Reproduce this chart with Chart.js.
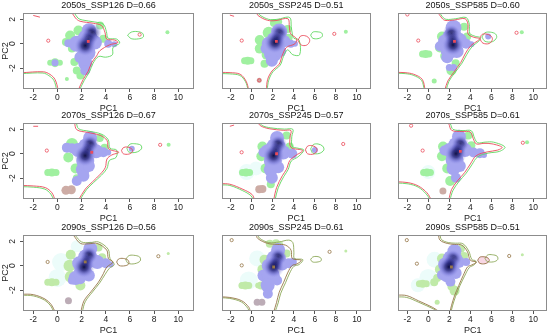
<!DOCTYPE html>
<html>
<head>
<meta charset="utf-8">
<script src="https://cdn.jsdelivr.net/npm/chart.js@4.4.1/dist/chart.umd.min.js"></script>
<style>
html, body { margin: 0; padding: 0; background: #fff; }
#wrap { position: relative; width: 550px; height: 335px; overflow: hidden; }
#wrap canvas { position: absolute; }
</style>
</head>
<body>
<div id="wrap"></div>
<script>
// panel titles, left to right, top to bottom
var titles = ['2050s_SSP126 D=0.66', '2050s_SSP245 D=0.51', '2050s_SSP585 D=0.60',
              '2070s_SSP126 D=0.67', '2070s_SSP245 D=0.57', '2070s_SSP585 D=0.61',
              '2090s_SSP126 D=0.56', '2090s_SSP245 D=0.61', '2090s_SSP585 D=0.51'];
var xTicks = [-2, 0, 2, 4, 6, 8, 10];
var yTicks = [-2, 0, 2];

// density patches [PC1, PC2, radius]
var greenFill = [
  [[1.05,0.67,5],[1.74,1.09,5],[0.7,0.15,4],[1.2,-0.4,4],[1.4,-1.5,4],[1.6,-2.2,4],[1.9,-2.6,4],[3.53,1.5,4],[3.8,0.4,4],[-0.6,-1.55,3],[-0.2,-1.55,4.5],[0.2,-1.55,3],[0.78,-2.9,2],[9.1,0.94,2]],
  [[0.75,0.3,5],[0.75,-0.4,5],[1.6,0.9,6],[1.4,-0.9,5],[1.2,-1.65,4],[2.1,1.7,4],[2.6,1.8,3],[3.4,1.2,4],[3.5,0.5,4],[-0.7,-1.4,3.5],[-0.4,-1.4,4],[-0.1,-1.4,3.5],[8.95,0.98,2]],
  [[1.1,-0.3,5],[1.3,0.6,5],[1.6,-1.0,5],[2.2,-2.2,5],[2.6,-1.6,4],[3.4,1.4,4],[3.7,0.6,4],[-0.55,-0.84,3.5],[-0.25,-0.84,4],[0.05,-0.84,3.5],[0.56,-3.06,2.5],[8.9,0.95,2]],
  [[1.2,0.8,6],[0.9,-0.3,5],[1.5,-1.2,5],[1.6,-2.0,4],[3.5,1.3,4],[3.9,0.5,4],[-0.8,-1.54,3.5],[-0.46,-1.54,4],[-0.12,-1.54,3.5],[9.2,0.73,2]],
  [[1.0,0.6,5],[0.9,-0.2,5],[1.3,-1.2,5],[1.8,-2.5,4],[3.3,1.5,4],[3.6,0.6,4],[-0.9,-1.54,3.5],[-0.56,-1.54,4],[-0.22,-1.54,3.5]],
  [[1.4,0.6,5],[1.3,-0.2,5],[1.8,-1.2,5],[2.08,-2.23,5],[2.5,-2.0,4],[3.8,1.5,4],[4.1,0.7,4],[-0.45,-1.54,3.5],[-0.13,-1.54,4],[0.2,-1.54,3.5],[9.4,0.95,2]],
  [[1.1,0.9,5],[1.0,0.0,6],[1.1,-0.9,6],[1.9,-1.62,5],[3.4,1.5,4],[3.7,0.7,4],[-0.8,-1.35,3.5],[-0.46,-1.35,4],[-0.12,-1.35,3.5],[9.17,1.0,1.5]],
  [[1.2,0.5,5],[1.0,-0.3,5],[1.7,1.8,4],[2.3,1.85,4],[2.7,1.75,3],[3.3,1.0,4],[0.6,-1.62,3],[0.88,-1.62,4],[-0.95,-1.62,3.5],[-0.63,-1.62,4],[-0.3,-1.62,3.5],[8.95,1.2,1.5]],
  [[1.3,0.6,5],[1.1,-0.3,5],[0.56,-1.35,4],[0.84,-1.0,4],[2.2,-1.7,4],[2.5,-2.04,5],[3.1,1.4,4],[3.4,0.8,4],[-0.85,-1.48,3.5],[-0.54,-1.48,4],[-0.2,-1.48,3.5],[0.84,-3.0,2.5],[8.95,0.9,1.5]]
];
var hazeFill = [[], [], [], [], [[-0.5,-1.5,8],[0.4,-1.2,7]], [[0.0,-1.5,7]],
  [[0.3,0.3,9],[0.0,-1.0,9],[1.6,1.6,6]], [[-0.3,-1.2,9],[0.5,0.6,8]], [[0.0,-1.0,9],[0.6,0.5,8],[-1.0,-1.6,7]]];
var mixFill = [[], [[0.7,-3.0,2.5]], [], [[0.7,-3.0,4.5],[1.15,-2.95,4.5]], [[0.7,-2.92,4],[1.0,-2.9,4]],
  [[1.39,-3.06,3.5]], [[0.91,-2.87,3.5]], [[0.5,-3.0,3.5],[0.95,-3.0,3.5]], []];
var pinkFill = [[], [], [], [], [], [], [], [], [[5.1,0.45,4],[5.4,0.45,4]]];
var blueFill = [
  [[2.6,1.1,7],[2.5,0.4,10],[1.6,0.0,8],[0.9,0.05,4],[3.1,0.1,7],[2.4,-0.7,9],[1.9,-1.1,6],[2.3,-1.6,7],[2.3,-2.2,5],[4.2,0.0,4],[4.7,-0.05,3],[-0.2,-1.55,3.5]],
  [[2.6,1.0,8],[2.3,0.2,10],[1.6,0.0,7],[1.3,-0.4,5],[2.0,-0.8,9],[1.9,-1.4,6],[3.1,0.2,6],[3.7,0.0,4],[2.7,-0.6,6],[4.1,0.0,3]],
  [[2.4,1.3,8],[2.3,0.5,10],[1.6,0.2,7],[1.1,-0.2,5],[2.0,-0.5,9],[3.0,0.3,7],[3.6,0.0,5],[4.1,-0.05,3],[2.7,-0.6,7],[1.8,-1.1,6],[2.0,-1.95,3.5],[2.4,-1.95,3.5],[5.7,0.6,3]],
  [[2.7,1.3,7],[2.5,0.5,10],[1.7,0.3,7],[0.78,0.5,5],[1.2,0.45,5],[3.2,0.2,7],[3.8,0.12,5],[4.2,0.1,3],[2.3,-0.6,9],[2.1,-1.3,7],[2.15,-1.81,6],[1.6,-2.23,5],[2.6,-1.0,6],[6.15,0.4,3]],
  [[2.4,1.3,7],[2.3,0.5,10],[1.5,0.2,7],[1.1,0.12,5],[3.0,0.1,7],[3.85,0.0,5],[2.0,-0.6,9],[1.8,-1.3,7],[1.9,-1.97,6],[2.5,-1.1,6],[6.0,0.3,3]],
  [[2.92,1.4,7],[2.8,0.6,10],[2.0,0.3,7],[1.53,0.26,5],[3.5,0.3,7],[4.3,0.1,5],[4.9,0.05,5],[5.3,-0.1,3],[2.5,-0.5,9],[2.4,-1.2,7],[2.63,-1.97,5],[3.0,-1.0,6]],
  [[2.72,1.4,7],[2.5,0.6,10],[1.8,0.2,7],[3.3,0.3,7],[4.0,0.2,5],[4.4,0.1,3],[2.1,-0.5,9],[1.5,-1.0,7],[1.2,-1.2,4],[2.6,-0.8,6],[1.9,-1.1,5]],
  [[2.5,1.3,7],[2.3,0.5,10],[1.6,0.0,7],[1.1,-0.8,6],[1.8,-0.8,9],[1.5,-1.6,7],[1.52,-2.3,5],[2.9,0.1,6],[3.5,0.2,5],[3.9,0.31,4],[2.4,-1.2,5]],
  [[2.49,1.2,7],[2.3,0.5,10],[1.6,0.1,7],[1.3,-0.75,5],[1.8,-0.7,8],[2.9,0.3,6],[3.6,0.31,4],[2.6,-0.6,6],[2.1,-1.3,5]]
];
// dark core of the density: upper spot, middle of the ridge, lower spot
var coreFill = [
  [[2.85,0.9,10],[2.57,0.39,9],[2.3,-0.15,11]], [[2.6,0.9,9],[2.4,0.5,8],[2.2,0.1,11]], [[2.2,0.85,9],[2.3,0.4,8],[2.35,-0.1,11]],
  [[2.7,0.81,9],[2.5,0.35,8],[2.29,-0.16,11]], [[2.5,0.81,9],[2.3,0.35,8],[2.07,-0.16,11]], [[3.05,0.81,9],[2.85,0.4,8],[2.63,0.0,11]],
  [[2.6,0.86,9],[2.4,0.4,8],[2.2,-0.11,11]], [[2.49,0.72,9],[2.3,0.3,8],[2.07,-0.1,11]], [[2.35,0.59,9],[2.15,0.25,8],[1.94,-0.1,11]]
];
var centroid = [[2.55,0.19],[2.33,0.2],[2.49,0.2],[2.84,0.12],[2.35,0.0],[3.05,0.2],[2.3,0.31],[2.07,-0.1],[2.2,-0.1]];

// contour lines [PC1, PC2]
var redLines = [
  [[[1.17,2.6],[1.5,2.1],[1.86,1.85],[2.96,1.68],[3.65,1.49],[3.93,0.94],[4.07,0.39],[4.75,0.3],[5.0,0.1],[4.3,-0.1],[3.5,-0.58],[3.24,-1.0],[2.83,-1.55],[2.55,-2.24],[2.13,-2.93],[1.72,-3.8]],
   [[-3,-2.38],[-1.17,-2.3],[-0.62,-2.51],[-0.2,-2.93],[0.07,-3.8]],
   [[-2.0,2.32],[-1.45,2.18]]],
  [[[0.4,2.6],[0.6,2.3],[1.5,1.92],[2.3,1.9],[3.43,2.05],[3.57,1.36],[3.7,0.81],[4.26,0.4],[4.1,0.0],[3.29,-0.3],[2.88,-0.98],[2.6,-1.67],[1.92,-2.23],[1.5,-2.92],[1.37,-3.8]],
   [[4.4,0.25],[4.6,0.6],[5.0,0.67],[5.4,0.5],[5.5,0.2],[5.2,-0.12],[4.7,-0.1],[4.4,0.25]],
   [[-3,-2.35],[-2.08,-2.37],[-1.12,-2.5],[-0.56,-3.06],[-0.29,-3.8]],
   [[-2.1,2.35],[-1.7,2.25]]],
  [[[0.89,2.6],[1.2,2.2],[1.57,1.92],[2.5,1.95],[3.5,2.05],[3.78,1.57],[3.78,0.81],[4.33,0.53],[4.88,0.4],[4.05,-0.16],[3.5,-0.84],[3.09,-1.54],[2.4,-2.37],[1.85,-3.06],[1.57,-3.8]],
   [[4.9,0.4],[5.1,0.75],[5.5,0.8],[5.95,0.65],[6.1,0.35],[5.8,0.02],[5.2,0.05],[4.9,0.4]],
   [[-3,-2.35],[-2.22,-2.37],[-1.4,-2.5],[-0.58,-2.92],[-0.3,-3.8]]],
  [[[1.4,2.6],[1.6,1.97],[2.5,1.75],[3.55,1.5],[4.1,1.09],[4.25,0.4],[5.08,0.12],[4.5,-0.1],[4.1,-0.43],[3.96,-1.13],[3.55,-1.67],[2.9,-2.3],[2.3,-2.9],[1.74,-3.8]],
   [[5.3,0.25],[5.45,0.5],[5.8,0.55],[6.15,0.4],[6.2,0.15],[5.9,-0.03],[5.45,0.0],[5.3,0.25]],
   [[-3,-2.6],[-2.0,-2.64],[-1.0,-2.78],[-0.46,-3.2],[-0.19,-3.8]],
   [[-2.0,2.25],[-1.6,2.25]]],
  [[[0.55,2.6],[0.8,2.3],[1.65,2.05],[3.03,1.92],[3.72,1.9],[3.63,1.36],[3.72,0.53],[4.83,0.26],[4.14,-0.16],[3.6,-0.57],[3.3,-1.27],[2.9,-1.8],[2.35,-2.78],[2.07,-3.8]],
   [[5.1,0.32],[5.3,0.62],[5.7,0.67],[6.1,0.52],[6.2,0.25],[5.9,-0.02],[5.3,0.0],[5.1,0.32]],
   [[-3,-2.45],[-2.1,-2.5],[-0.85,-2.92],[0.0,-3.33],[0.27,-3.8]],
   [[-2.1,2.25],[-1.7,2.35]]],
  [[[1.8,2.6],[1.94,2.47],[2.22,1.92],[3.2,1.82],[4.0,1.78],[4.28,1.23],[4.56,0.81],[5.3,0.85],[6.07,0.81],[7.03,0.53],[6.6,0.3],[5.6,0.15],[4.56,-0.16],[4.0,-0.84],[3.46,-1.54],[2.77,-2.23],[2.22,-2.92],[1.94,-3.8]],
   [[-3,-2.3],[-1.92,-2.37],[-0.96,-2.64],[-0.13,-3.2],[0.3,-3.8]]],
  [[[1.2,2.6],[1.32,2.5],[1.9,1.83],[2.6,1.8],[3.28,1.83],[4.08,1.28],[4.22,0.59],[4.6,0.3],[4.08,-0.11],[3.8,-0.65],[3.39,-1.35],[2.8,-2.1],[2.2,-2.87],[1.93,-3.8]],
   [[4.9,0.3],[5.05,0.55],[5.45,0.6],[5.85,0.45],[5.9,0.15],[5.6,0.0],[5.1,0.02],[4.9,0.3]],
   [[-3,-2.33],[-2.0,-2.37],[-1.03,-2.73],[-0.5,-3.2],[-0.19,-3.8]]],
  [[[0.4,2.6],[0.55,2.24],[1.5,1.83],[2.4,1.75],[3.2,1.69],[3.73,1.28],[3.85,0.59],[4.7,0.45],[4.3,0.15],[3.85,0.03],[3.44,-0.52],[3.03,-1.35],[2.6,-2.18],[2.35,-3.0],[2.07,-3.8]],
   [[-3,-2.55],[-2.1,-2.6],[-0.97,-2.87],[-0.28,-3.42],[-0.15,-3.8]]],
  [[[0.95,2.6],[1.11,2.1],[1.8,1.83],[2.5,1.75],[3.18,1.69],[3.73,1.14],[4.0,0.45],[4.6,0.3],[4.1,0.05],[3.73,-0.1],[3.32,-0.8],[2.9,-1.62],[2.5,-2.45],[2.2,-3.28],[2.06,-3.8]],
   [[4.7,0.45],[4.9,0.7],[5.3,0.73],[5.7,0.62],[5.8,0.4],[5.4,0.17],[4.9,0.2],[4.7,0.45]],
   [[-3,-2.4],[-2.05,-2.45],[-0.95,-2.87],[0.42,-3.42],[1.11,-3.8]]]
];
var greenLines = [
  [[[1.35,2.6],[1.7,2.1],[2.05,1.95],[3.1,1.78],[3.8,1.6],[4.05,1.0],[4.2,0.45],[4.9,0.38],[5.15,0.05],[4.6,-0.3],[4.55,-0.9],[4.0,-1.1],[3.4,-1.05],[2.95,-1.6],[2.65,-2.3],[2.22,-3.0],[1.82,-3.8]],
   [[-3,-2.45],[-1.2,-2.4],[-0.7,-2.62],[-0.3,-3.0],[-0.05,-3.8]],
   [[5.8,0.7],[6.1,0.95],[6.6,1.0],[7.05,0.85],[7.1,0.55],[6.7,0.4],[6.1,0.42],[5.8,0.7]]],
  [[[0.55,2.6],[0.75,2.35],[1.6,2.0],[2.4,2.0],[3.6,2.15],[3.75,1.4],[3.85,0.8],[4.0,0.45],[4.5,0.3],[4.55,-0.9],[3.9,-0.9],[3.4,-0.5],[3.0,-1.05],[2.7,-1.75],[2.0,-2.3],[1.6,-3.0],[1.45,-3.8]],
   [[5.6,0.7],[5.8,0.95],[6.2,0.98],[6.65,0.88],[6.7,0.6],[6.3,0.42],[5.8,0.45],[5.6,0.7]],
   [[-3,-2.45],[-2.1,-2.47],[-1.15,-2.6],[-0.62,-3.1],[-0.35,-3.8]]],
  [[[1.05,2.6],[1.35,2.2],[1.7,2.0],[2.6,2.05],[3.6,2.15],[3.9,1.6],[3.95,0.85],[4.5,0.6],[4.95,0.5],[4.8,0.2],[4.2,-0.2],[3.65,-0.9],[3.2,-1.6],[2.5,-2.4],[1.95,-3.1],[1.7,-3.8]],
   [[5.1,0.55],[5.4,0.9],[5.9,0.95],[6.4,0.8],[6.5,0.5],[6.1,0.17],[5.4,0.2],[5.1,0.55]],
   [[-3,-2.42],[-2.2,-2.45],[-1.45,-2.58],[-0.65,-3.0],[-0.38,-3.8]]],
  [[[1.55,2.6],[1.75,2.05],[2.6,1.85],[3.65,1.6],[4.2,1.15],[4.35,0.45],[4.9,0.3],[4.85,-0.3],[4.3,-0.55],[4.1,-1.2],[3.65,-1.75],[3.0,-2.35],[2.4,-2.95],[1.85,-3.8]],
   [[5.75,0.45],[6.0,0.78],[6.4,0.82],[6.9,0.7],[6.95,0.4],[6.5,0.12],[5.9,0.15],[5.75,0.45]],
   [[-3,-2.7],[-2.0,-2.74],[-1.05,-2.9],[-0.55,-3.3],[-0.3,-3.8]]],
  [[[0.7,2.6],[0.95,2.32],[1.8,2.12],[3.1,2.02],[3.9,2.0],[3.8,1.4],[3.85,0.6],[4.4,0.45],[4.95,0.3],[4.4,-0.25],[3.75,-0.6],[3.45,-1.3],[3.05,-1.85],[2.5,-2.8],[2.2,-3.8]],
   [[5.6,0.4],[5.85,0.75],[6.3,0.8],[6.75,0.62],[6.85,0.3],[6.4,0.02],[5.8,0.05],[5.6,0.4]],
   [[-3,-2.55],[-2.1,-2.6],[-0.9,-3.02],[-0.1,-3.43],[0.15,-3.8]]],
  [[[1.95,2.6],[2.1,2.45],[2.35,2.0],[3.3,1.9],[4.1,1.88],[4.4,1.28],[4.7,0.9],[5.4,0.95],[6.2,0.95],[7.3,0.55],[6.8,0.2],[5.7,0.05],[4.7,-0.25],[4.15,-0.9],[3.6,-1.6],[2.9,-2.3],[2.35,-3.0],[2.05,-3.8]],
   [[-3,-2.4],[-1.92,-2.47],[-0.96,-2.74],[-0.2,-3.3],[0.2,-3.8]]],
  [[[1.35,2.6],[1.5,2.45],[2.0,1.95],[2.7,1.9],[3.4,1.95],[4.2,1.35],[4.35,0.6],[4.7,0.1],[4.3,-0.2],[3.95,-0.7],[3.5,-1.4],[2.9,-2.15],[2.3,-2.95],[2.05,-3.8]],
   [[5.65,0.5],[5.9,0.82],[6.3,0.86],[6.8,0.72],[6.85,0.4],[6.4,0.17],[5.85,0.2],[5.65,0.5]],
   [[-3,-2.42],[-2.0,-2.47],[-1.05,-2.83],[-0.55,-3.3],[-0.3,-3.8]]],
  [[[0.55,2.6],[0.7,2.28],[1.6,1.9],[2.6,1.95],[3.5,2.1],[3.9,1.9],[4.0,1.1],[4.05,0.6],[4.85,0.5],[4.5,0.1],[4.0,-0.05],[3.6,-0.6],[3.2,-1.4],[2.75,-2.25],[2.5,-3.05],[2.2,-3.8]],
   [[5.6,0.52],[5.8,0.72],[6.2,0.76],[6.55,0.65],[6.6,0.42],[6.2,0.3],[5.75,0.32],[5.6,0.52]],
   [[-3,-2.62],[-2.1,-2.68],[-1.0,-2.97],[-0.38,-3.5],[-0.25,-3.8]]],
  [[[1.1,2.6],[1.25,2.15],[1.9,1.9],[2.6,1.85],[3.3,1.8],[3.85,1.2],[4.15,0.5],[4.5,0.4],[4.4,0.1],[3.9,-0.15],[3.45,-0.85],[3.0,-1.65],[2.6,-2.5],[2.3,-3.3],[2.15,-3.8]],
   [[5.4,0.6],[5.65,0.88],[6.1,0.9],[6.55,0.78],[6.6,0.5],[6.2,0.32],[5.6,0.35],[5.4,0.6]],
   [[-3,-2.55],[-2.05,-2.6],[-0.9,-3.0],[0.5,-3.55],[0.95,-3.8]]]
];
// tiny isolated contours
var redDots = [
  [[-0.76,0.25],[6.8,0.75]], [[-0.97,0.26],[7.85,0.81],[0.7,-3.0]], [[-2.0,2.4],[-0.96,0.26],[8.4,0.9]],
  [[-0.88,0.26],[8.5,0.73]], [[-0.98,0.12],[8.7,0.8]], [[-1.64,2.3],[-0.54,0.26],[9.0,0.9]],
  [[-0.81,0.31],[8.35,0.78]], [[-1.93,2.1],[-0.97,0.03],[7.4,1.14]], [[-2.05,2.1],[-1.09,0.17],[7.7,0.8]]
];

var FONT = '"Liberation Sans", Arial, Helvetica, sans-serif';
var X_MIN = -2.85, X_MAX = 11.3, Y_MIN = -3.71, Y_MAX = 2.52;
var colLeft = [0, 196, 372], colWidth = [196, 176, 178];
var padL = [0, 3, 3.4], padR = [2, 1.5, 3];
var rowTop = [0, 110, 222];

function bub(a) {
  return a.map(function(p) { return {x: p[0], y: p[1], r: p[2]}; });
}
function xy(a) {
  return a.map(function(p) { return {x: p[0], y: p[1]}; });
}

function coreColor(c) {
  var d = c.raw;
  if (!d || !c.chart.chartArea) return 'rgba(60,60,150,0.6)';
  var px = c.chart.scales.x.getPixelForValue(d.x);
  var py = c.chart.scales.y.getPixelForValue(d.y);
  if (!isFinite(px) || !isFinite(py)) return 'rgba(60,60,150,0.6)';
  var g = c.chart.ctx.createRadialGradient(px, py, 0, px, py, d.r);
  g.addColorStop(0, 'rgba(10,10,60,0.95)');
  g.addColorStop(0.35, 'rgba(35,35,120,0.75)');
  g.addColorStop(0.7, 'rgba(105,105,205,0.4)');
  g.addColorStop(1, 'rgba(165,165,240,0)');
  return g;
}

var framePlugin = {
  id: 'frame',
  afterDraw: function(chart) {
    var ctx = chart.ctx, a = chart.chartArea;
    ctx.save();
    ctx.strokeStyle = '#8c8c8c';
    ctx.lineWidth = 1;
    ctx.strokeRect(Math.round(a.left) + 0.5, Math.round(a.top) + 0.5, Math.round(a.right - a.left) - 1, Math.round(a.bottom - a.top) - 1);
    ctx.fillStyle = '#111';
    ctx.font = '9px ' + FONT;
    ctx.textAlign = 'center';
    ctx.textBaseline = 'middle';
    ctx.fillText(chart.options.plugins.frame.title, (a.left + a.right) / 2, a.top - 7);
    var ys = chart.scales.y;
    if (ys.options.display) {
      ctx.fillStyle = '#222';
      ctx.font = '8.5px ' + FONT;
      ys.ticks.forEach(function(t) {
        ctx.save();
        ctx.translate(a.left - 10, ys.getPixelForValue(t.value));
        ctx.rotate(-Math.PI / 2);
        ctx.fillText(String(t.value), 0, 0);
        ctx.restore();
      });
    }
    ctx.restore();
  }
};

function noPad(s) {
  s.paddingLeft = 0; s.paddingRight = 0; s.paddingTop = 0; s.paddingBottom = 0;
}

var wrap = document.getElementById('wrap');

function drawPanel(i) {
  var row = Math.floor(i / 3), col = i % 3;
  var late = row === 2;
  var cv = document.createElement('canvas');
  cv.width = colWidth[col];
  cv.height = 114;
  cv.style.left = colLeft[col] + 'px';
  cv.style.top = rowTop[row] + 'px';
  wrap.appendChild(cv);

  var red = late ? 'rgb(150,118,72)' : 'rgb(235,75,90)';
  var grn = late ? 'rgb(140,168,88)' : 'rgb(95,215,95)';
  var ds = [];
  function blob(arr, color) {
    ds.push({type: 'bubble', data: bub(arr), backgroundColor: color, borderWidth: 0, clip: 0});
  }
  blob(hazeFill[i], 'rgb(236,252,250)');
  blob(greenFill[i], late ? 'rgb(192,234,168)' : 'rgb(160,240,160)');
  blob(mixFill[i], late ? 'rgb(188,172,182)' : 'rgb(205,172,165)');
  blob(pinkFill[i], 'rgb(248,215,228)');
  blob(blueFill[i], 'rgb(165,165,240)');
  ds.push({type: 'bubble', data: bub(coreFill[i]), backgroundColor: coreColor, borderWidth: 0, clip: 0});
  greenLines[i].forEach(function(l) {
    ds.push({type: 'line', data: xy(l), borderColor: grn, borderWidth: 0.9, pointRadius: 0, fill: false, tension: 0.35, clip: 0});
  });
  redLines[i].forEach(function(l) {
    ds.push({type: 'line', data: xy(l), borderColor: red, borderWidth: 0.9, pointRadius: 0, fill: false, tension: 0.35, clip: 0});
  });
  ds.push({type: 'scatter', data: xy(redDots[i]), pointRadius: 1.6, borderColor: red, backgroundColor: 'rgba(0,0,0,0)', borderWidth: 0.8, clip: 0});
  ds.push({type: 'scatter', data: xy([centroid[i]]), pointRadius: 2, pointStyle: 'rect', backgroundColor: red, borderWidth: 0, clip: 0});
  // first dataset is painted last, so put the top layer first
  ds.reverse();

  new Chart(cv, {
    type: 'bubble',
    data: {datasets: ds},
    options: {
      responsive: false,
      animation: false,
      events: [],
      layout: {autoPadding: false, padding: {left: padL[col], right: padR[col], top: 13, bottom: 0}},
      plugins: {
        legend: {display: false},
        tooltip: {enabled: false},
        frame: {title: titles[i]}
      },
      scales: {
        x: {
          type: 'linear', min: X_MIN, max: X_MAX,
          afterBuildTicks: function(s) { s.ticks = xTicks.map(function(v) { return {value: v}; }); },
          afterFit: function(s) { s.height = 25; noPad(s); },
          ticks: {color: '#222', font: {family: FONT, size: 8.5}, padding: 1, maxRotation: 0},
          grid: {drawOnChartArea: false, tickLength: 3, color: '#555'},
          border: {display: false},
          title: {display: true, text: 'PC1', color: '#222', font: {family: FONT, size: 9}, padding: {top: 0, bottom: 0}}
        },
        y: {
          type: 'linear', display: col === 0, min: Y_MIN, max: Y_MAX,
          afterBuildTicks: function(s) { s.ticks = yTicks.map(function(v) { return {value: v}; }); },
          afterFit: function(s) { s.width = 23; noPad(s); },
          ticks: {callback: function() { return ''; }},
          grid: {drawOnChartArea: false, tickLength: 3, color: '#555'},
          border: {display: false},
          title: {display: true, text: 'PC2', color: '#222', font: {family: FONT, size: 9}, padding: {top: 0, bottom: 0}}
        }
      }
    },
    plugins: [framePlugin]
  });
}

for (var i = 0; i < titles.length; i++) drawPanel(i);
</script>
</body>
</html>
